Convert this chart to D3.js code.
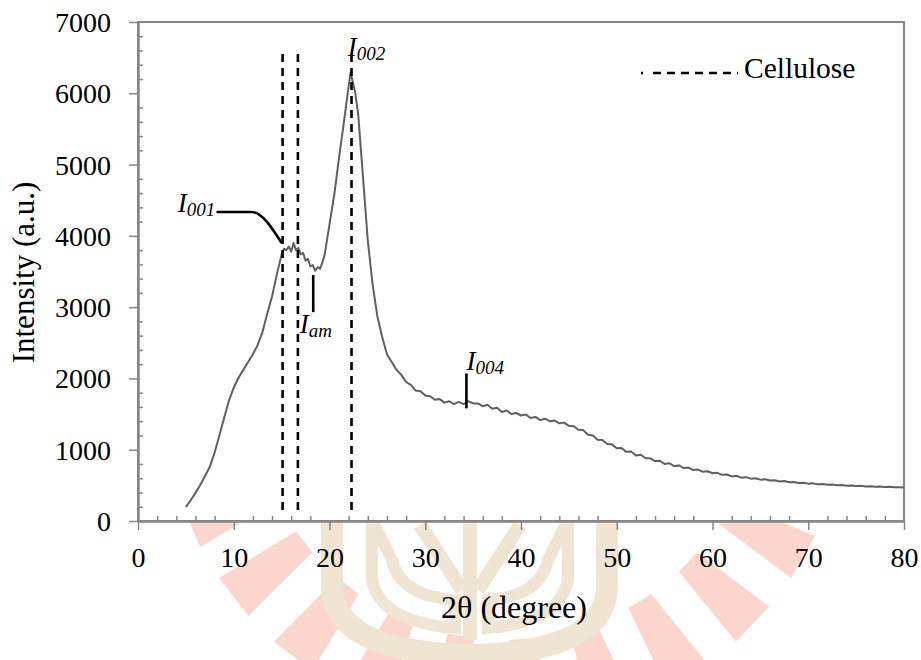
<!DOCTYPE html>
<html>
<head>
<meta charset="utf-8">
<script src="https://cdn.jsdelivr.net/npm/d3@7"></script>
<style>
  body { margin: 0; background: #fff; }
</style>
</head>
<body>
<div id="container"></div>
<script>
// XRD scan: [2theta, intensity]
const scan = [
  [5.0,196],[5.5,290],[6.0,395],[6.5,505],[7.0,630],[7.5,760],[8.0,960],[8.5,1200],
  [9.0,1450],[9.5,1690],[10.0,1870],[10.5,2010],[11.0,2120],[11.5,2230],[12.0,2340],
  [12.5,2470],[13.0,2650],[13.5,2910],[14.0,3150],[14.5,3460],[15.0,3740],[15.25,3820],
  [15.5,3800],[15.75,3850],[16.0,3780],[16.25,3900],[16.5,3800],[16.75,3830],[17.0,3740],
  [17.25,3760],[17.5,3650],[17.75,3680],[18.0,3570],[18.25,3590],[18.5,3510],[18.75,3560],
  [19.0,3540],[19.25,3620],[19.5,3740],[20.0,4160],[20.5,4580],[21.0,5100],[21.5,5590],
  [22.0,6100],[22.2,6290],[22.4,6180],[22.7,6000],[23.0,5700],[23.5,4820],[24.0,3930],
  [24.5,3320],[25.0,2870],[25.5,2580],[26.0,2340],[26.5,2230],[27.0,2120],[27.5,2050],
  [28.0,1950],[28.5,1910],[29.0,1830],[29.5,1820],[30.0,1760],[30.5,1750],[31.0,1700],
  [31.5,1710],[32.0,1660],[32.5,1680],[33.0,1640],[33.5,1670],[34.0,1640],[34.5,1680],
  [35.0,1650],[35.5,1650],[36.0,1610],[36.5,1630],[37.0,1575],[37.5,1590],[38.0,1530],
  [38.5,1550],[39.0,1500],[39.5,1515],[40.0,1480],[40.5,1495],[41.0,1445],[41.5,1460],
  [42.0,1415],[42.5,1435],[43.0,1400],[43.5,1410],[44.0,1370],[44.5,1380],[45.0,1335],
  [45.5,1330],[46.0,1280],[46.5,1275],[47.0,1210],[47.5,1200],[48.0,1140],[48.5,1135],
  [49.0,1080],[49.5,1075],[50.0,1020],[50.5,1025],[51.0,970],[51.5,975],[52.0,920],
  [52.5,930],[53.0,880],[53.5,880],[54.0,840],[54.5,845],[55.0,800],[55.5,810],[56.0,770],
  [56.5,780],[57.0,740],[57.5,750],[58.0,715],[58.5,722],[59.0,690],[59.5,698],[60.0,670],
  [60.5,676],[61.0,648],[61.5,652],[62.0,625],[62.5,634],[63.0,608],[63.5,615],[64.0,594],
  [64.5,600],[65.0,580],[65.5,585],[66.0,567],[66.5,572],[67.0,554],[67.5,560],[68.0,543],
  [68.5,548],[69.0,533],[69.5,538],[70.0,524],[70.5,528],[71.0,516],[71.5,520],[72.0,508],
  [72.5,513],[73.0,502],[73.5,505],[74.0,496],[74.5,499],[75.0,490],[75.5,494],[76.0,485],
  [76.5,488],[77.0,480],[77.5,483],[78.0,476],[78.5,479],[79.0,472],[79.5,475],[80.0,470]
];

// cellulose reference lines (2theta)
const cellulosePeaks = [15.1, 16.7, 22.3];
const peakSpan = [90, 6550];

const xMajor = [0,10,20,30,40,50,60,70,80];
const xMinor = [2,4,6,8,12,14,16,18,22,24,26,28,32,34,36,38,42,44,46,48,52,54,56,58,62,64,66,68,72,74,76,78];
const yMajor = [0,1000,2000,3000,4000,5000,6000,7000];
const yMinor = [200,400,600,800,1200,1400,1600,1800,2200,2400,2600,2800,3200,3400,3600,3800,
  4200,4400,4600,4800,5200,5400,5600,5800,6200,6400,6600,6800];

// peak labels: [name, subscript, x, y] in data units
const peakLabels = [
  ["I","001",4.15,4335],
  ["I","002",21.9,6530],
  ["I","am",16.9,2640],
  ["I","004",34.3,2120]
];
// leader lines in data units
const leaders = [
  [[8.2,4335],[11.9,4335],[15.0,3900]],
  [[18.3,3450],[18.3,2930]],
  [[34.3,2070],[34.3,1580]]
];

const serif = "Liberation Serif";
const width = 921, height = 660;
const m = {left:138, right:904, top:22, bottom:521};

const svg = d3.create("svg")
  .attr("width", width)
  .attr("height", height);
container.append(svg.node());

svg.append("rect").attr("width", width).attr("height", height).attr("fill", "#fff");

// faint emblem watermark behind the chart
const wm = svg.append("g").attr("class", "watermark");
const rayAngles = [16,30,44,58,72,86,100,114,128,142,156];
const cx = 505, cy = 385;
rayAngles.forEach(a => {
  const p = (ang, r) => [cx + r*Math.cos(ang*Math.PI/180), cy + r*Math.sin(ang*Math.PI/180)];
  const pts = [p(a-3,255), p(a+3,255), p(a+4,345), p(a-4,345)];
  wm.append("polygon").attr("points", pts.map(d=>d.join(",")).join(" ")).attr("fill", "#fbd6ce");
});
wm.append("path")
  .attr("d", "M332,470 L332,585 Q332,652 470,655 Q607,652 607,585 L607,470")
  .attr("fill", "none").attr("stroke", "#f0e4d3").attr("stroke-width", 22);
wm.append("path")
  .attr("d", "M372,520 L372,580 Q380,622 455,628 L455,600 Q400,596 392,560 Z")
  .attr("fill", "none").attr("stroke", "#f0e4d3").attr("stroke-width", 12);
wm.append("path")
  .attr("d", "M568,520 L568,580 Q560,622 488,628 L488,600 Q540,596 548,560 Z")
  .attr("fill", "none").attr("stroke", "#f0e4d3").attr("stroke-width", 12);
wm.append("path")
  .attr("d", "M470,520 L470,640 M420,525 L462,590 M520,525 L478,590")
  .attr("fill", "none").attr("stroke", "#f0e4d3").attr("stroke-width", 14);

// plot area
svg.append("rect")
  .attr("x", m.left).attr("y", m.top)
  .attr("width", m.right - m.left).attr("height", m.bottom - m.top)
  .attr("fill", "#fff")
  .attr("stroke", "#868686").attr("stroke-width", 2);

const x = d3.scaleLinear().domain([0, 80]).range([m.left, m.right]);
const y = d3.scaleLinear().domain([0, 7000]).range([m.bottom, m.top]);

const styleAxis = g => {
  g.attr("font-family", serif).attr("font-size", 28);
  g.select(".domain").attr("stroke", "#868686").attr("stroke-width", 2);
  g.selectAll(".tick line").attr("stroke", "#868686").attr("stroke-width", 1.5);
}

// minor ticks point inward
svg.append("g")
  .attr("transform", `translate(0,${m.bottom})`)
  .call(d3.axisBottom(x).tickValues(xMinor).tickSize(-5).tickSizeOuter(0).tickFormat(""))
  .call(styleAxis);
svg.append("g")
  .attr("transform", `translate(${m.left},0)`)
  .call(d3.axisLeft(y).tickValues(yMinor).tickSize(-5).tickSizeOuter(0).tickFormat(""))
  .call(styleAxis);

// major ticks point outward
const xAxis = svg.append("g")
  .attr("transform", `translate(0,${m.bottom})`)
  .call(d3.axisBottom(x).tickValues(xMajor).tickSize(9).tickSizeOuter(0).tickFormat(d3.format("d")))
  .call(styleAxis);
xAxis.selectAll("text")
  .attr("y", 46).attr("dy", 0)
  .attr("font-family", serif).attr("font-size", 28).attr("fill", "#000");

const yAxis = svg.append("g")
  .attr("transform", `translate(${m.left},0)`)
  .call(d3.axisLeft(y).tickValues(yMajor).tickSize(9).tickSizeOuter(0).tickFormat(d3.format("d")))
  .call(styleAxis);
yAxis.selectAll("text")
  .attr("x", -27).attr("dy", "0.34em")
  .attr("font-family", serif).attr("font-size", 28).attr("fill", "#000");

// axis titles
svg.append("text")
  .attr("x", (m.left + m.right) / 2 - 7).attr("y", 618)
  .attr("text-anchor", "middle")
  .attr("font-family", serif).attr("font-size", 32)
  .text("2θ (degree)");

svg.append("text")
  .attr("transform", `translate(34,${(m.top + m.bottom) / 2 + 1}) rotate(-90)`)
  .attr("text-anchor", "middle")
  .attr("font-family", serif).attr("font-size", 31)
  .text("Intensity (a.u.)");

// the scan
const line = d3.line().x(d => x(d[0])).y(d => y(d[1]));
svg.append("path")
  .datum(scan)
  .attr("d", line)
  .attr("fill", "none")
  .attr("stroke", "#606060")
  .attr("stroke-width", 2)
  .attr("stroke-linejoin", "round");

// cellulose dashed lines
svg.selectAll(".peak")
  .data(cellulosePeaks)
  .join("line")
  .attr("class", "peak")
  .attr("x1", d => x(d)).attr("x2", d => x(d))
  .attr("y1", y(peakSpan[1])).attr("y2", y(peakSpan[0]))
  .attr("stroke", "#000")
  .attr("stroke-width", 2.6)
  .attr("stroke-dasharray", "8,6");

// leader lines
const curve = d3.line().x(d => x(d[0])).y(d => y(d[1])).curve(d3.curveMonotoneX);
svg.selectAll(".leader")
  .data(leaders)
  .join("path")
  .attr("class", "leader")
  .attr("d", d => d.length > 2 ? curve(d) : d3.line().x(p => x(p[0])).y(p => y(p[1]))(d))
  .attr("fill", "none")
  .attr("stroke", "#000")
  .attr("stroke-width", 2.6);

// peak labels
const lab = svg.selectAll(".plabel")
  .data(peakLabels)
  .join("text")
  .attr("class", "plabel")
  .attr("x", d => x(d[2]))
  .attr("y", d => y(d[3]))
  .attr("font-family", serif)
  .attr("font-style", "italic")
  .attr("font-size", 27);
lab.append("tspan").text(d => d[0]);
lab.append("tspan")
  .attr("dy", 4)
  .attr("font-size", 19)
  .text(d => d[1]);

// legend
const legend = svg.append("g");
legend.append("line")
  .attr("x1", 641).attr("x2", 738)
  .attr("y1", 73).attr("y2", 73)
  .attr("stroke", "#000")
  .attr("stroke-width", 2.6)
  .attr("stroke-dasharray", "2,10,8,6,8,6,8,6,8,6,8,6,8,6");
legend.append("text")
  .attr("x", 744).attr("y", 78)
  .attr("font-family", serif).attr("font-size", 29.5)
  .text("Cellulose");
</script>
</body>
</html>
